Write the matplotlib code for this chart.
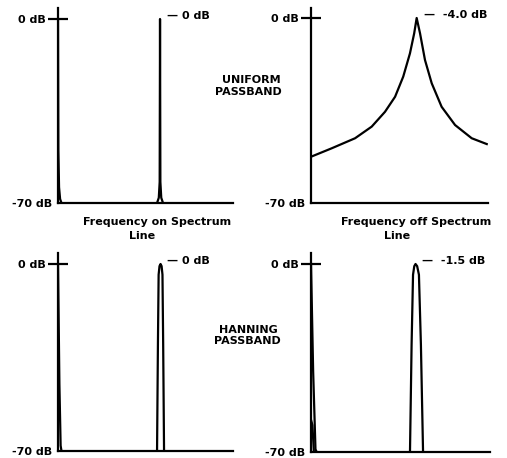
import matplotlib
matplotlib.use("Agg")
import matplotlib.pyplot as plt
from matplotlib.ticker import FixedLocator, FixedFormatter

# Spectrum shapes, x as fraction of the frequency span, y in dB
# Uniform passband, frequency on spectrum line
uni_on_dc_x = [0.0, 0.002, 0.006, 0.012, 0.02]
uni_on_dc_y = [0.0, -50.0, -64.0, -68.5, -70.0]
uni_on_pk_x = [0.566, 0.576, 0.581, 0.583, 0.585, 0.590, 0.600]
uni_on_pk_y = [-70.0, -68.0, -62.0, 0.0, -62.0, -68.0, -70.0]

# Uniform passband, frequency off spectrum line
uni_off_x = [0.0, 0.117, 0.249, 0.343, 0.418, 0.475, 0.521, 0.559, 0.583, 0.597,
             0.616, 0.644, 0.682, 0.738, 0.814, 0.908, 0.993]
uni_off_y = [-52.5, -49.3, -45.5, -41.1, -35.5, -29.8, -22.2, -13.4, -5.8, 0.0,
             -5.8, -15.9, -24.7, -33.6, -40.5, -45.5, -47.7]

# Hanning passband, frequency on spectrum line
han_on_dc_x = [0.0, 0.008, 0.015, 0.02]
han_on_dc_y = [0.0, -45.0, -68.0, -70.0]
han_on_pk_x = [0.566, 0.571, 0.575, 0.580, 0.586, 0.592, 0.597, 0.601, 0.606]
han_on_pk_y = [-70.0, -30.0, -4.0, -0.8, 0.0, -0.8, -4.0, -30.0, -70.0]

# Hanning passband, frequency off spectrum line
han_off_dc_x = [0.0, 0.012, 0.025, 0.032]
han_off_dc_y = [0.0, -40.0, -69.0, -70.0]
han_off_lobe_x = [0.0, 0.008, 0.016]
han_off_lobe_y = [-58.0, -60.0, -70.0]
han_off_pk_x = [0.553, 0.562, 0.570, 0.577, 0.584, 0.593, 0.603, 0.614, 0.626]
han_off_pk_y = [-70.0, -30.0, -4.0, -0.8, 0.0, -0.8, -4.0, -30.0, -70.0]

peak_labels = ["\u2014 0 dB", "\u2014  -4.0 dB", "\u2014 0 dB", "\u2014  -1.5 dB"]
peak_x = [0.583, 0.597, 0.586, 0.584]

W, H = 507, 458
fig = plt.figure(figsize=(W / 100, H / 100), dpi=100)
plt.rcParams["font.family"] = "DejaVu Sans"
fs = 8
lw = 1.6


def make_axes(left, right, top, bottom, zero_y):
    ax = fig.add_axes([left / W, 1 - bottom / H, (right - left) / W, (bottom - top) / H])
    px_per_db = (bottom - zero_y) / 70.0
    ax.set_ylim(-70, (zero_y - top) / px_per_db)
    ax.set_xlim(0, 1)
    for s in ["top", "right"]:
        ax.spines[s].set_visible(False)
    for s in ["left", "bottom"]:
        ax.spines[s].set_linewidth(lw)
    ax.set_xticks([])
    ax.yaxis.set_major_locator(FixedLocator([0]))
    ax.yaxis.set_major_formatter(FixedFormatter(["0 dB"]))
    ax.yaxis.set_minor_locator(FixedLocator([-70]))
    ax.yaxis.set_minor_formatter(FixedFormatter(["-70 dB"]))
    ax.tick_params(axis="y", which="major", direction="inout", length=14, width=lw,
                   pad=2, labelsize=fs)
    ax.tick_params(axis="y", which="minor", length=0, pad=4, labelsize=fs)
    for t in ax.get_yticklabels(which="both"):
        t.set_fontweight("bold")
    return ax


ax1 = make_axes(58, 233, 8, 203, 19)
ax1.plot(uni_on_dc_x, uni_on_dc_y, color="black", lw=lw)
ax1.plot(uni_on_pk_x, uni_on_pk_y, color="black", lw=lw)

ax2 = make_axes(311, 488, 8, 203, 18)
ax2.plot(uni_off_x, uni_off_y, color="black", lw=lw)

ax3 = make_axes(58, 233, 253, 451, 264)
ax3.plot(han_on_dc_x, han_on_dc_y, color="black", lw=lw)
ax3.plot(han_on_pk_x, han_on_pk_y, color="black", lw=lw)

ax4 = make_axes(311, 490, 253, 452, 264)
ax4.plot(han_off_dc_x, han_off_dc_y, color="black", lw=lw)
ax4.plot(han_off_lobe_x, han_off_lobe_y, color="black", lw=lw)
ax4.plot(han_off_pk_x, han_off_pk_y, color="black", lw=lw)

for ax, lab, x in zip([ax1, ax2, ax3, ax4], peak_labels, peak_x):
    ax.annotate(lab, xy=(x, 0), xytext=(5, 2), textcoords="offset points",
                ha="left", va="center", fontsize=fs, fontweight="bold",
                annotation_clip=False)


def ftext(x, y, s):
    fig.text(x / W, 1 - y / H, s, ha="center", va="center", fontsize=fs,
             fontweight="bold")


ftext(157, 222, "Frequency on Spectrum")
ftext(142, 236, "Line")
ftext(416, 222, "Frequency off Spectrum")
ftext(397, 236, "Line")
ftext(251, 80, "UNIFORM")
ftext(248, 92, "PASSBAND")
ftext(248, 330, "HANNING")
ftext(247, 341, "PASSBAND")

fig.savefig("out.png", dpi=100)
